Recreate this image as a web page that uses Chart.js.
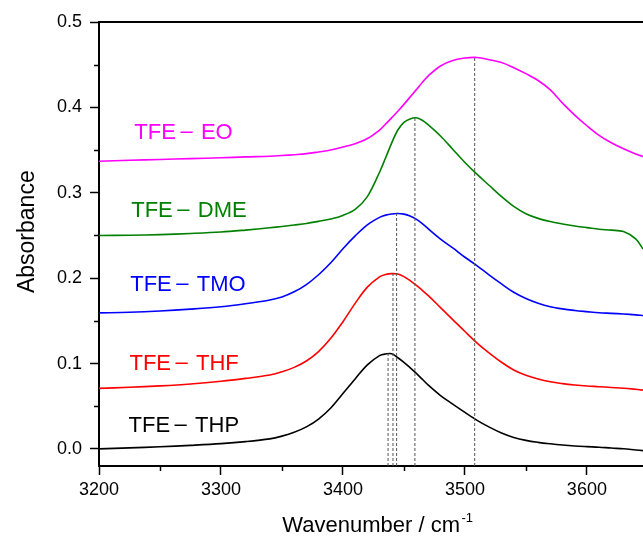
<!DOCTYPE html>
<html>
<head>
<meta charset="utf-8">
<script src="https://cdn.jsdelivr.net/npm/chart.js@4.4.1/dist/chart.umd.min.js"></script>
<style>
  body { margin: 0; background: #fff; }
  #wrap { width: 643px; height: 536px; }
</style>
</head>
<body>
<div id="wrap"><canvas id="irChart"></canvas></div>
<script>
// wavenumber grid (cm-1) shared by every spectrum
const wavenumber = [3200, 3225, 3250, 3275, 3300, 3320, 3340, 3350, 3360, 3370,
    3380, 3390, 3400, 3410, 3420, 3430, 3435, 3440, 3445, 3450,
    3455, 3460, 3465, 3470, 3480, 3490, 3500, 3510, 3520, 3530,
    3540, 3550, 3560, 3570, 3580, 3590, 3600, 3610, 3620, 3630,
    3640, 3646];

const absEO = [0.337, 0.338, 0.339, 0.340, 0.341, 0.342, 0.3427, 0.3436, 0.3446, 0.3458,
    0.3478, 0.3500, 0.3535, 0.3575, 0.3635, 0.3735, 0.3805, 0.388, 0.3955, 0.4035,
    0.412, 0.4205, 0.4292, 0.437, 0.4485, 0.4548, 0.4578, 0.4584, 0.4558, 0.4525,
    0.4465, 0.4395, 0.4315, 0.4205, 0.405, 0.391, 0.3785, 0.3672, 0.3585, 0.3515,
    0.3455, 0.3425];
const absDME = [0.250, 0.2503, 0.251, 0.2523, 0.254, 0.2563, 0.259, 0.2605, 0.2622, 0.264,
    0.2665, 0.2693, 0.2735, 0.2805, 0.2955, 0.324, 0.341, 0.3585, 0.3735, 0.3825,
    0.3865, 0.3878, 0.385, 0.3795, 0.3665, 0.351, 0.3355, 0.3215, 0.3085, 0.2955,
    0.284, 0.2755, 0.270, 0.2663, 0.2635, 0.261, 0.2592, 0.2572, 0.2562, 0.2545,
    0.246, 0.234];
const absTMO = [0.1593, 0.160, 0.1615, 0.1637, 0.1665, 0.170, 0.1745, 0.178, 0.184, 0.1925,
    0.204, 0.218, 0.2345, 0.2495, 0.2625, 0.2712, 0.2738, 0.2752, 0.2757, 0.275,
    0.2728, 0.2692, 0.264, 0.2578, 0.2458, 0.2355, 0.2245, 0.2145, 0.2035, 0.1932,
    0.1835, 0.1762, 0.1707, 0.1666, 0.164, 0.1622, 0.1608, 0.1595, 0.1588, 0.158,
    0.157, 0.1562];
const absTHF = [0.0709, 0.0722, 0.0738, 0.076, 0.0792, 0.0826, 0.0866, 0.0903, 0.0955, 0.103,
    0.114, 0.1295, 0.149, 0.1705, 0.1895, 0.2015, 0.2043, 0.2053, 0.2048, 0.2018,
    0.1972, 0.1918, 0.1858, 0.1795, 0.1655, 0.1515, 0.1375, 0.124, 0.1122, 0.1015,
    0.0925, 0.0862, 0.0818, 0.0786, 0.0765, 0.0749, 0.0737, 0.0729, 0.072, 0.0711,
    0.0698, 0.0689];
const absTHP = [0, 0.0012, 0.0025, 0.0042, 0.0062, 0.0085, 0.0118, 0.015, 0.0195, 0.0258,
    0.035, 0.048, 0.065, 0.082, 0.0985, 0.1093, 0.1112, 0.1115, 0.1068, 0.1015,
    0.0953, 0.0887, 0.0817, 0.0747, 0.0625, 0.0525, 0.0428, 0.0335, 0.0255, 0.0187,
    0.0135, 0.010, 0.0077, 0.006, 0.0046, 0.0035, 0.0027, 0.002, 0.001, 0.0002,
    -0.0012, -0.002];

const seriesNames = ['TFE－EO', 'TFE－DME', 'TFE－TMO', 'TFE－THF', 'TFE－THP'];
// peak markers (dashed drop lines), same order as seriesNames
const peakWavenumber = [3508, 3459, 3444, 3441, 3437];
const peakAbsorbance = [0.4584, 0.388, 0.2758, 0.2055, 0.112];

const xTicks = [3200, 3300, 3400, 3500, 3600];
const yTicks = [0.0, 0.1, 0.2, 0.3, 0.4, 0.5];

const colors = ['#ff00ff', '#008000', '#0000ff', '#ff0000', '#000000'];
const allAbs = [absEO, absDME, absTMO, absTHF, absTHP];
// where each name sits (data coords: left edge, baseline)
const labelPos = [[3229, 0.3626], [3226.4, 0.272], [3225.6, 0.1853], [3225, 0.0924], [3224.2, 0.0194]];

const X_MIN = 3200, X_MAX = 3646, Y_MIN = -0.02, Y_MAX = 0.5;
const FONT = "'Liberation Sans', Arial, sans-serif";

Chart.defaults.font.family = FONT;
Chart.defaults.color = '#000';

const datasets = [];
peakWavenumber.forEach((w, i) => {
    datasets.push({
        data: [{ x: w, y: Y_MIN }, { x: w, y: peakAbsorbance[i] }],
        borderColor: '#555',
        borderWidth: 1,
        borderDash: [3, 2],
        pointRadius: 0,
        tension: 0,
    });
});
allAbs.forEach((vals, i) => {
    datasets.push({
        label: seriesNames[i],
        data: wavenumber.map((w, j) => ({ x: w, y: vals[j] })),
        borderColor: colors[i],
        borderWidth: 1.6,
        pointRadius: 0,
        tension: 0.35,
    });
});

// minor ticks, curve names and axis titles
const decorations = {
    id: 'decorations',
    afterDraw(chart) {
        const ctx = chart.ctx;
        const xs = chart.scales.x, ys = chart.scales.y;
        ctx.save();
        ctx.strokeStyle = '#000';
        ctx.lineWidth = 1.5;
        for (let i = 0; i < xTicks.length; i++) {
            const v = xTicks[i] + 50;
            if (v > X_MAX) continue;
            const px = Math.round(xs.getPixelForValue(v)) + 0.5;
            ctx.beginPath();
            ctx.moveTo(px, xs.top);
            ctx.lineTo(px, xs.top + 5);
            ctx.stroke();
        }
        for (let i = 0; i < yTicks.length - 1; i++) {
            const py = Math.round(ys.getPixelForValue(yTicks[i] + 0.05)) + 0.5;
            ctx.beginPath();
            ctx.moveTo(ys.right - 5, py);
            ctx.lineTo(ys.right, py);
            ctx.stroke();
        }

        // series names: prefix, dash, suffix
        ctx.font = '22px ' + FONT;
        ctx.textAlign = 'left';
        ctx.textBaseline = 'alphabetic';
        seriesNames.forEach((name, i) => {
            const parts = name.split('－');
            const x = xs.getPixelForValue(labelPos[i][0]);
            const y = ys.getPixelForValue(labelPos[i][1]);
            const wPre = ctx.measureText(parts[0]).width;
            ctx.fillStyle = colors[i];
            ctx.fillText(parts[0], x, y);
            ctx.fillText('–', x + wPre + 4.5, y - 1);
            ctx.fillText(parts[1], x + wPre + 25, y);
        });

        // axis titles
        ctx.fillStyle = '#000';
        ctx.save();
        ctx.translate(33.5, 231.7);
        ctx.rotate(-Math.PI / 2);
        ctx.font = '23px ' + FONT;
        ctx.textAlign = 'center';
        ctx.fillText('Absorbance', 0, 0);
        ctx.restore();

        ctx.font = '22px ' + FONT;
        ctx.textAlign = 'left';
        const main = 'Wavenumber / cm';
        const wMain = ctx.measureText(main).width;
        ctx.fillText(main, 460 - wMain, 531.7);
        ctx.font = '13px ' + FONT;
        ctx.fillText('-1', 461.5, 522);
        ctx.restore();
    }
};

new Chart(document.getElementById('irChart'), {
    type: 'line',
    data: { datasets: datasets },
    options: {
        responsive: true,
        maintainAspectRatio: false,
        animation: false,
        devicePixelRatio: 1,
        layout: { padding: 0 },
        plugins: { legend: { display: false }, tooltip: { enabled: false } },
        scales: {
            x: {
                type: 'linear',
                position: 'bottom',
                min: X_MIN,
                max: X_MAX,
                afterBuildTicks: (s) => { s.ticks = xTicks.map((v) => ({ value: v })); },
                afterFit: (s) => { s.height = 70; },
                ticks: { font: { size: 18 }, padding: 4, maxRotation: 0, callback: (v) => String(v) },
                grid: { drawOnChartArea: false, tickLength: 9, tickWidth: 1.5, tickColor: '#000' },
                border: { color: '#000', width: 2 },
            },
            xTop: {
                type: 'linear',
                position: 'top',
                min: X_MIN,
                max: X_MAX,
                afterFit: (s) => { s.height = 22; },
                ticks: { display: false },
                grid: { display: false },
                border: { color: '#000', width: 2 },
            },
            y: {
                type: 'linear',
                min: Y_MIN,
                max: Y_MAX,
                afterBuildTicks: (s) => { s.ticks = yTicks.map((v) => ({ value: v })); },
                afterFit: (s) => { s.width = 99; },
                ticks: { font: { size: 18 }, padding: 8, callback: (v) => v.toFixed(1) },
                grid: { drawOnChartArea: false, tickLength: 9, tickWidth: 1.5, tickColor: '#000' },
                border: { color: '#000', width: 2 },
            },
        },
    },
    plugins: [decorations],
});
</script>
</body>
</html>
